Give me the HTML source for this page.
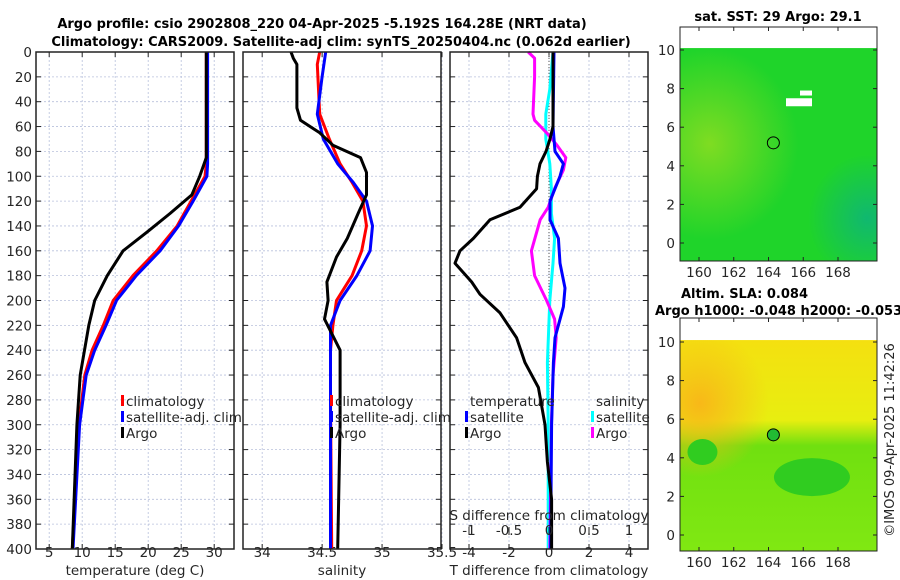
<!DOCTYPE html>
<html><head><meta charset="utf-8"><style>
html,body{margin:0;padding:0;background:#fff}
svg{display:block;font-family:"DejaVu Sans","Liberation Sans",sans-serif}
</style></head><body>
<svg id="c" width="900" height="580" viewBox="0 0 900 580"></svg>
<script>
const NS='http://www.w3.org/2000/svg';
const svg=document.getElementById('c');
// ---- data ----
const depthTicks=[0,20,40,60,80,100,120,140,160,180,200,220,240,260,280,300,320,340,360,380,400];
const tempTicks=[5,10,15,20,25,30];
const salTicks=[34,34.5,35,35.5];
const tdiffTicks=[-4,-2,0,2,4];
const sdiffTicks=[-1,-0.5,0,0.5,1];
const latTicks=[0,2,4,6,8,10];
const lonTicks=[160,162,164,166,168];

const tClimDepth=[0,90,100,120,140,160,180,200,220,240,260,300,400];
const tClim=[28.8,28.8,28.6,26.5,24.4,21.3,17.7,14.7,13.2,11.5,10.4,9.5,8.5];
const tSatDepth=[0,90,100,120,140,160,180,200,220,240,260,300,400];
const tSat=[29.0,29.0,28.9,26.8,24.6,21.8,18.2,15.2,13.6,11.9,10.6,9.6,8.6];
const tArgoDepth=[0,85,100,115,130,145,160,180,200,220,260,300,400];
const tArgo=[28.8,28.8,27.8,26.6,23.3,19.8,16.2,13.8,11.9,11.0,9.7,9.2,8.5];

const sClimDepth=[0,10,50,70,90,105,120,140,160,180,200,220,240,280,400];
const sClim=[34.48,34.46,34.48,34.56,34.65,34.75,34.84,34.87,34.83,34.75,34.62,34.59,34.57,34.57,34.58];
const sSatDepth=[0,20,50,70,90,105,120,140,160,180,200,220,260,400];
const sSat=[34.53,34.50,34.46,34.51,34.63,34.76,34.87,34.92,34.90,34.79,34.65,34.57,34.57,34.57];
const sArgoDepth=[0,5,10,45,55,65,75,85,97,115,130,150,165,185,200,215,240,300,400];
const sArgo=[34.24,34.26,34.29,34.29,34.32,34.48,34.59,34.82,34.87,34.87,34.80,34.71,34.62,34.54,34.55,34.52,34.65,34.65,34.63];

const dtArgoDepth=[0,60,70,80,90,100,110,125,135,150,160,170,185,195,210,230,250,270,300,330,360,400];
const dtArgo=[0.2,0.2,0.05,-0.15,-0.45,-0.58,-0.62,-1.45,-2.95,-3.78,-4.45,-4.7,-3.87,-3.45,-2.45,-1.62,-1.2,-0.53,-0.2,-0.08,0.13,0.13];
const dtSatDepth=[0,60,80,90,100,120,135,150,170,190,205,230,250,300,400];
const dtSat=[0.25,0.2,0.3,0.72,0.55,0.05,0.05,0.47,0.55,0.8,0.72,0.3,0.22,0.13,0.08];
const dsSatDepth=[0,30,50,70,90,110,130,150,170,200,250,300,400];
const dsSat=[0.05,0.01,-0.04,-0.04,0.01,0.03,0.03,0.07,0.05,0.01,-0.02,-0.01,-0.01];
const dsArgoDepth=[0,5,20,50,55,65,75,85,95,110,125,135,160,180,200,215,230,260,300,400];
const dsArgo=[-0.26,-0.18,-0.18,-0.2,-0.18,-0.03,0.1,0.21,0.18,0.07,-0.01,-0.11,-0.22,-0.18,-0.03,0.07,0.09,0.05,0.03,0.01];

// ---- helpers ----
const FS=13.5;
function el(tag,attrs,parent){const e=document.createElementNS(NS,tag);for(const k in attrs)e.setAttribute(k,attrs[k]);(parent||svg).appendChild(e);return e;}
function txt(s,x,y,opt,parent){const t=el('text',Object.assign({x:x,y:y,'font-size':FS,fill:'#262626'},opt||{}),parent);t.textContent=s;return t;}
const Y0=52,Y1=549;
const yD=d=>Y0+(d/400)*(Y1-Y0);
function lin(d0,d1,r0,r1){return v=>r0+(v-d0)/(d1-d0)*(r1-r0);}

function panel(name,x0,x1,xScale,ticks,fmt,showDepth){
  const g=el('g',{}) ;
  
  
  ticks.forEach(t=>{const x=xScale(t);el('line',{x1:x,y1:Y0,x2:x,y2:Y1,stroke:'#b8c0dc','stroke-width':0.8,'stroke-dasharray':'2,2'},g);});
  depthTicks.forEach(d=>{const y=yD(d);el('line',{x1:x0,y1:y,x2:x1,y2:y,stroke:'#b8c0dc','stroke-width':0.8,'stroke-dasharray':'2,2'},g);
    el('line',{x1:x0,y1:y,x2:x0+5,y2:y,stroke:'#222'},g);el('line',{x1:x1-5,y1:y,x2:x1,y2:y,stroke:'#222'},g);
    if(showDepth){const t=txt(String(d),x0-4,y+5,{'text-anchor':'end'},g);}});
  ticks.forEach(t=>{const x=xScale(t);el('line',{x1:x,y1:Y1,x2:x,y2:Y1-5,stroke:'#222'},g);el('line',{x1:x,y1:Y0,x2:x,y2:Y0+5,stroke:'#222'},g);
    const l=txt(fmt(t),x,557,{'text-anchor':'middle'},g);});
  return g;
}
function line(g,name,depths,vals,xs,color,w){
  const pts=depths.map((d,i)=>xs(vals[i]).toFixed(1)+','+yD(d).toFixed(1)).join(' ');
  const p=el('polyline',{points:pts,fill:'none',stroke:color,'stroke-width':w||3,'stroke-linejoin':'round'},g);
  
  
}
function box(g,x0,x1){el('rect',{x:x0,y:Y0,width:x1-x0,height:Y1-Y0,fill:'none',stroke:'#222','stroke-width':1.5},g);}
function legItem(g,name,x,y,color,label){
  const gi=el('g',{},g);
  
  
  if(color)el('rect',{x:x,y:y-11,width:3,height:11,fill:color},gi);
  txt(label,x+(color?5:0),y,{},gi);
}

// title
const t1=txt('Argo profile: csio 2902808_220 04-Apr-2025 -5.192S 164.28E (NRT data)',322,28,{'text-anchor':'middle','font-weight':'bold','font-size':13,fill:'#000'});

const t2=txt('Climatology: CARS2009. Satellite-adj clim: synTS_20250404.nc (0.062d earlier)',341,46,{'text-anchor':'middle','font-weight':'bold','font-size':13,fill:'#000'});


// panel 1 temperature
const xT=lin(3,33,36,234);
const p1=panel('temperature-panel',36,234,xT,tempTicks,String,true);
line(p1,'temp-climatology-line',tClimDepth,tClim,xT,'#ff0000');
line(p1,'temp-satellite-line',tSatDepth,tSat,xT,'#0000ff');
line(p1,'temp-argo-line',tArgoDepth,tArgo,xT,'#000');
box(p1,36,234);
legItem(p1,'legend-climatology',121,406,'#ff0000','climatology');
legItem(p1,'legend-satellite-adj',121,422,'#0000ff','satellite-adj. clim');
legItem(p1,'legend-argo',121,438,'#000','Argo');
const a1=txt('temperature (deg C)',135,575,{'text-anchor':'middle'});


// panel 2 salinity
const xS=lin(33.84,35.5,243,442);
const p2=panel('salinity-panel',243,441,xS,salTicks,String,false);
line(p2,'sal-climatology-line',sClimDepth,sClim,xS,'#ff0000');
line(p2,'sal-satellite-line',sSatDepth,sSat,xS,'#0000ff');
line(p2,'sal-argo-line',sArgoDepth,sArgo,xS,'#000');
box(p2,243,441);
legItem(p2,'legend-climatology-sal',330,406,'#ff0000','climatology');
legItem(p2,'legend-satellite-adj-sal',330,422,'#0000ff','satellite-adj. clim');
legItem(p2,'legend-argo-sal',330,438,'#000','Argo');
const a2=txt('salinity',342,575,{'text-anchor':'middle'});


// panel 3 differences
const xDT=lin(-4.95,4.95,450,648);
const xDS=lin(-1.2375,1.2375,450,648);
const p3=panel('difference-panel',450,648,xDT,tdiffTicks,String,false);
el('line',{x1:549,y1:Y0,x2:549,y2:Y1,stroke:'#555','stroke-width':1,'stroke-dasharray':'1,2'},p3);
line(p3,'sdiff-satellite-line',dsSatDepth,dsSat,xDS,'#00ffff');
line(p3,'sdiff-argo-line',dsArgoDepth,dsArgo,xDS,'#ff00ff');
line(p3,'tdiff-satellite-line',dtSatDepth,dtSat,xDT,'#0000ff');
line(p3,'tdiff-argo-line',dtArgoDepth,dtArgo,xDT,'#000');
box(p3,450,648);
sdiffTicks.forEach(s=>{const x=xDS(s);el('line',{x1:x,y1:527,x2:x,y2:535,stroke:'#222'},p3);
  const l=txt(String(s),x,535,{'text-anchor':'middle'},p3);});
const sa=txt('S difference from climatology',549,520,{'text-anchor':'middle'},p3);

const a3=txt('T difference from climatology',549,575,{'text-anchor':'middle'});

legItem(p3,'legend-temperature-header',470,406,null,'temperature');
legItem(p3,'legend-tdiff-satellite',465,422,'#0000ff','satellite');
legItem(p3,'legend-tdiff-argo',465,438,'#000','Argo');
legItem(p3,'legend-salinity-header',596,406,null,'salinity');
legItem(p3,'legend-sdiff-satellite',591,422,'#00ffff','satellite');
legItem(p3,'legend-sdiff-argo',591,438,'#ff00ff','Argo');

// maps
function map(name,top,bot,kind){
  const g=el('g',{});
  
  
  const x0=680,x1=877;
  const yL=lin(0,10,top.y0,top.y10);
  const xL=lin(160,168,699,838);
  const cTop=yL(10.1);
  const id=name+'-grad';
  const defs=el('defs',{},g);
  if(kind==='sst'){
    const rg=el('radialGradient',{id:id+'a',cx:'0.15',cy:'0.45',r:'0.45'},defs);
    el('stop',{offset:'0','stop-color':'#7fdc22'},rg);el('stop',{offset:'1','stop-color':'#7fdc22','stop-opacity':0},rg);
    const rg2=el('radialGradient',{id:id+'b',cx:'0.95',cy:'0.8',r:'0.3'},defs);
    el('stop',{offset:'0','stop-color':'#10b870'},rg2);el('stop',{offset:'1','stop-color':'#10b870','stop-opacity':0},rg2);
    el('rect',{x:x0,y:cTop,width:x1-x0,height:bot-cTop,fill:'#1fd42a'},g);
    el('rect',{x:x0,y:cTop,width:x1-x0,height:bot-cTop,fill:'url(#'+id+'a)'},g);
    el('rect',{x:x0,y:cTop,width:x1-x0,height:bot-cTop,fill:'url(#'+id+'b)'},g);
    el('rect',{x:786,y:yL(7.5),width:26,height:8,fill:'#fff'},g);
    el('rect',{x:800,y:yL(7.9),width:12,height:5,fill:'#fff'},g);
    el('circle',{cx:xL(164.28),cy:yL(5.19),r:6,fill:'none',stroke:'#000','stroke-width':1},g);
  } else {
    const lg=el('linearGradient',{id:id,x1:0,y1:0,x2:0,y2:1},defs);
    el('stop',{offset:'0','stop-color':'#f4e010'},lg);el('stop',{offset:'0.38','stop-color':'#e8ee10'},lg);
    el('stop',{offset:'0.5','stop-color':'#70e010'},lg);el('stop',{offset:'1','stop-color':'#80e812'},lg);
    const rg=el('radialGradient',{id:id+'a',cx:'0.1',cy:'0.3',r:'0.35'},defs);
    el('stop',{offset:'0','stop-color':'#f8b818'},rg);el('stop',{offset:'1','stop-color':'#f8b818','stop-opacity':0},rg);
    el('rect',{x:x0,y:cTop,width:x1-x0,height:bot-cTop,fill:'url(#'+id+')'},g);
    el('rect',{x:x0,y:cTop,width:x1-x0,height:bot-cTop,fill:'url(#'+id+'a)'},g);
    el('ellipse',{cx:xL(160.2),cy:yL(4.3),rx:15,ry:13,fill:'#30cc20'},g);
    el('ellipse',{cx:xL(166.5),cy:yL(3),rx:38,ry:19,fill:'#30cc20'},g);
    el('circle',{cx:xL(164.28),cy:yL(5.19),r:6,fill:'#22bb33',stroke:'#000','stroke-width':1},g);
  }
  el('rect',{x:x0,y:top.box,width:x1-x0,height:bot-top.box,fill:'none',stroke:'#222','stroke-width':1},g);
  latTicks.forEach(v=>{const y=yL(v);el('line',{x1:x0,y1:y,x2:x0+4,y2:y,stroke:'#222'},g);el('line',{x1:x1-4,y1:y,x2:x1,y2:y,stroke:'#222'},g);
    const l=txt(String(v),x0-5,y+5,{'text-anchor':'end'},g);});
  lonTicks.forEach(v=>{const x=xL(v);el('line',{x1:x,y1:bot,x2:x,y2:bot-4,stroke:'#222'},g);el('line',{x1:x,y1:top.box,x2:x,y2:top.box+4,stroke:'#222'},g);
    const l=txt(String(v),x,bot+16,{'text-anchor':'middle'},g);});
}
map('sst-map',{y0:243,y10:50,box:27},261,'sst');
map('sla-map',{y0:535,y10:342,box:318},551,'sla');
const m1=txt('sat. SST: 29 Argo: 29.1',778,21,{'text-anchor':'middle','font-weight':'bold','font-size':13,fill:'#000'});

const m2=txt('Altim. SLA: 0.084',681,298,{'font-weight':'bold','font-size':13,fill:'#000'});

const m3=txt('Argo h1000: -0.048 h2000: -0.053',655,315,{'font-weight':'bold','font-size':13,fill:'#000'});

const cr=txt('©IMOS 09-Apr-2025 11:42:26',0,0,{'text-anchor':'middle','font-size':13,transform:'translate(894,440) rotate(-90)'});

</script>
</body></html>
